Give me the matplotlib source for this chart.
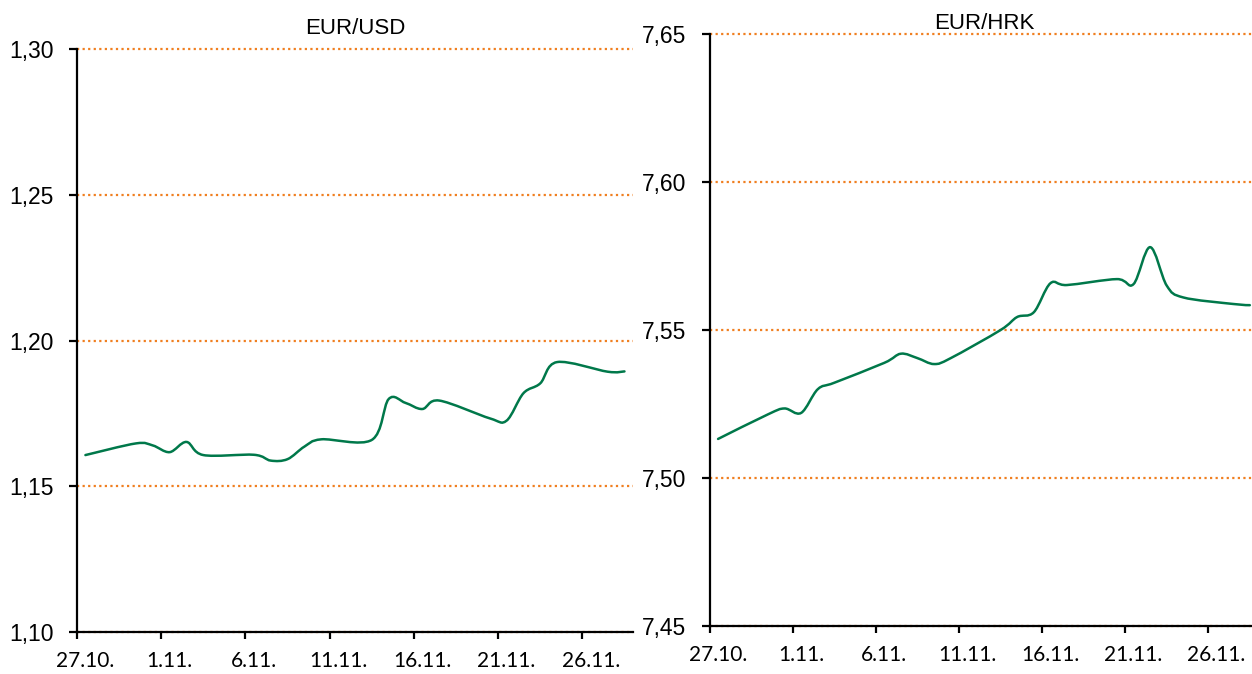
import numpy as np
import matplotlib
matplotlib.use('Agg')
import matplotlib.pyplot as plt
from matplotlib.path import Path
from matplotlib.patches import PathPatch

# working days, 2017
dates = ['2017-10-27', '2017-10-30', '2017-10-31', '2017-11-01', '2017-11-02',
         '2017-11-03', '2017-11-06', '2017-11-07', '2017-11-08', '2017-11-09',
         '2017-11-10', '2017-11-13', '2017-11-14', '2017-11-15', '2017-11-16',
         '2017-11-17', '2017-11-20', '2017-11-21', '2017-11-22', '2017-11-23',
         '2017-11-24', '2017-11-27', '2017-11-28']

eur_usd = [1.1607, 1.1647, 1.1640, 1.1617, 1.1652,
           1.1607, 1.1608, 1.1588, 1.1593, 1.1636,
           1.1661, 1.1659, 1.1799, 1.1786, 1.1765,
           1.1794, 1.1733, 1.1725, 1.1819, 1.1853,
           1.1926, 1.1893, 1.1894]

eur_hrk = [7.5132, 7.5215, 7.5235, 7.5220, 7.5300,
           7.5322, 7.5389, 7.5420, 7.5405, 7.5385,
           7.5405, 7.5500, 7.5544, 7.5560, 7.5658,
           7.5652, 7.5672, 7.5655, 7.5780, 7.5650,
           7.5610, 7.5588, 7.5584]

tick_days = ['2017-10-27', '2017-11-01', '2017-11-06', '2017-11-11',
             '2017-11-16', '2017-11-21', '2017-11-26']
tick_labels = ['27.10.', '1.11.', '6.11.', '11.11.', '16.11.', '21.11.', '26.11.']

start = np.datetime64('2017-10-27')
x_days = np.array([(np.datetime64(d) - start).astype(int) for d in dates]) + 0.5
x_ticks = np.array([(np.datetime64(d) - start).astype(int) for d in tick_days])

green = '#00784a'
orange = '#f07f20'


def smooth(ax, xs, ys):
    # Excel-style smoothed line (Catmull-Rom as cubic Bezier)
    pts = np.column_stack([xs, ys])
    verts = [pts[0]]
    codes = [Path.MOVETO]
    n = len(pts)
    for i in range(n - 1):
        p0 = pts[max(i - 1, 0)]
        p1 = pts[i]
        p2 = pts[i + 1]
        p3 = pts[min(i + 2, n - 1)]
        c1 = p1 + (p2 - p0) / 6
        c2 = p2 - (p3 - p1) / 6
        verts += [c1, c2, p2]
        codes += [Path.CURVE4] * 3
    patch = PathPatch(Path(verts, codes), facecolor='none', edgecolor=green,
                      lw=1.8, zorder=3, capstyle='round')
    ax.add_patch(patch)


def style(ax, values, lo, hi, title, pad):
    smooth(ax, x_days, values)
    ax.set_xlim(0, 33)
    ax.set_ylim(lo, hi)
    yt = np.arange(lo, hi + 0.001, 0.05)
    ax.set_yticks(yt)
    ax.set_yticklabels([('%.2f' % v).replace('.', ',') for v in yt],
                       fontsize=16.5, family='Liberation Sans')
    for v in yt:
        ax.axhline(v, color=orange, lw=1.6, ls=(0, (1, 1.5)), zorder=1, clip_on=False)
    ax.set_xticks(x_ticks, minor=True)
    ax.set_xticks(x_ticks + 0.5)
    ax.set_xticklabels(tick_labels, fontsize=15, family='Lato')
    ax.tick_params(axis='x', which='major', length=0, pad=14)
    ax.tick_params(axis='x', which='minor', length=5, width=1.6, direction='out')
    ax.tick_params(axis='y', length=6, width=1.6, direction='out', pad=11)
    for s in ['top', 'right']:
        ax.spines[s].set_visible(False)
    for s in ['left', 'bottom']:
        ax.spines[s].set_linewidth(1.6)
        ax.spines[s].set_zorder(4)
    ax.set_title(title, fontsize=16, family='Liberation Sans', pad=pad)


fig = plt.figure(figsize=(12.52, 6.74), dpi=100)
ax1 = fig.add_axes([0.0615, 0.0623, 0.444, 0.865])
ax2 = fig.add_axes([0.5669, 0.0712, 0.438, 0.8783])

style(ax1, eur_usd, 1.10, 1.30, 'EUR/USD', 11)
style(ax2, eur_hrk, 7.45, 7.65, 'EUR/HRK', 0)

fig.savefig('out.png', dpi=100)
